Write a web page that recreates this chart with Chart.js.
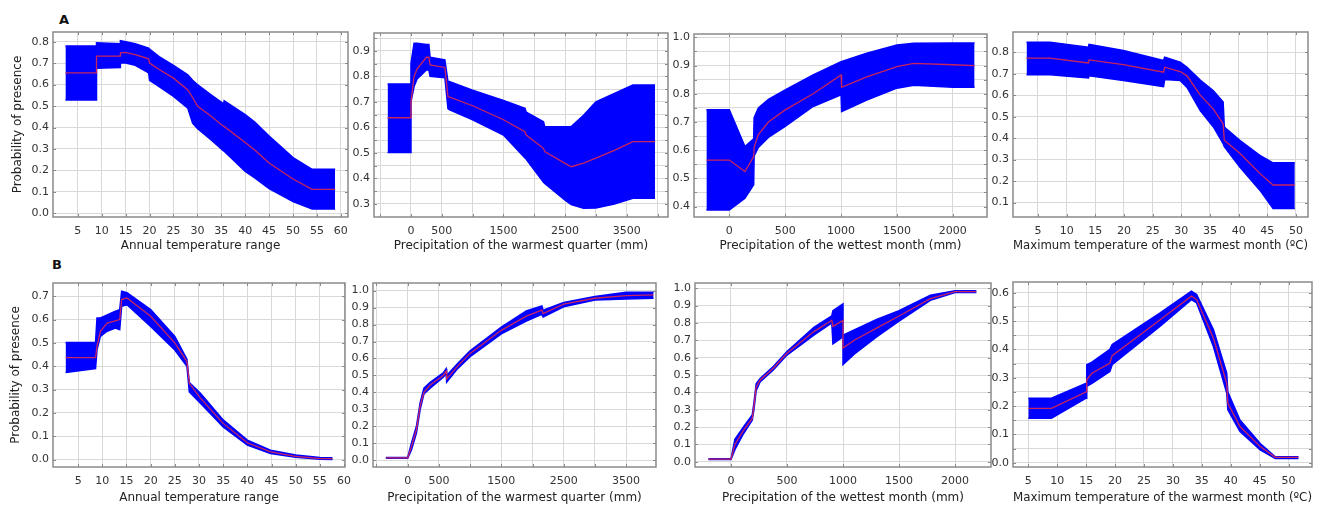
<!DOCTYPE html>
<html>
<head>
<meta charset="utf-8">
<script src="https://cdn.jsdelivr.net/npm/chart.js@4.4.0/dist/chart.umd.min.js"></script>
<style>
  body { margin: 0; background: #fff; width: 1337px; height: 507px; position: relative; overflow: hidden; font-family: "DejaVu Sans", sans-serif; }
  canvas { position: absolute; }
  .tag { position: absolute; font-weight: bold; font-size: 13px; color: #111; }
</style>
</head>
<body>
<div class="tag" style="left:59px;top:12px">A</div>
<div class="tag" style="left:52px;top:257px">B</div>
<script>
// ---- Row A: response curves (x, upper bound, mean, lower bound) ----
const a1X   = [2.4, 8.9, 8.9, 13.9, 13.9, 15, 17, 19.8, 20, 22, 25, 28, 29, 30, 33, 35.5, 35.6, 40, 42, 45, 50, 54, 58.8];
const a1Hi  = [0.78, 0.78, 0.795, 0.79, 0.805, 0.80, 0.79, 0.77, 0.765, 0.73, 0.69, 0.645, 0.62, 0.60, 0.55, 0.51, 0.525, 0.46, 0.425, 0.36, 0.26, 0.205, 0.205];
const a1Mid = [0.655, 0.655, 0.733, 0.733, 0.748, 0.75, 0.74, 0.72, 0.70, 0.67, 0.63, 0.575, 0.54, 0.50, 0.45, 0.405, 0.405, 0.33, 0.295, 0.235, 0.16, 0.112, 0.112];
const a1Lo  = [0.528, 0.528, 0.676, 0.68, 0.70, 0.70, 0.69, 0.655, 0.62, 0.59, 0.545, 0.49, 0.42, 0.395, 0.34, 0.29, 0.29, 0.195, 0.165, 0.115, 0.055, 0.02, 0.02];

const a2X   = [-380, 0, 0, 50, 100, 250, 290, 310, 550, 600, 620, 1000, 1500, 1850, 1870, 2150, 2170, 2500, 2600, 2800, 3000, 3300, 3600, 3960];
const a2Hi  = [0.77, 0.77, 0.85, 0.93, 0.93, 0.925, 0.925, 0.875, 0.865, 0.78, 0.78, 0.746, 0.706, 0.675, 0.66, 0.622, 0.603, 0.603, 0.603, 0.648, 0.70, 0.733, 0.766, 0.766];
const a2Mid = [0.638, 0.638, 0.70, 0.80, 0.83, 0.875, 0.875, 0.845, 0.835, 0.72, 0.72, 0.685, 0.63, 0.583, 0.57, 0.518, 0.505, 0.459, 0.446, 0.46, 0.48, 0.51, 0.544, 0.544];
const a2Lo  = [0.502, 0.502, 0.70, 0.76, 0.79, 0.825, 0.825, 0.80, 0.795, 0.674, 0.67, 0.63, 0.57, 0.48, 0.475, 0.385, 0.38, 0.315, 0.298, 0.283, 0.284, 0.30, 0.322, 0.322];

const a3X   = [-205, 0, 140, 218, 222, 260, 350, 500, 750, 1000, 1005, 1230, 1500, 1650, 2000, 2195];
const a3Hi  = [0.743, 0.743, 0.613, 0.64, 0.715, 0.75, 0.78, 0.814, 0.867, 0.914, 0.914, 0.944, 0.973, 0.979, 0.98, 0.98];
const a3Mid = [0.565, 0.565, 0.524, 0.577, 0.61, 0.655, 0.70, 0.743, 0.80, 0.867, 0.823, 0.86, 0.896, 0.908, 0.903, 0.90];
const a3Lo  = [0.388, 0.388, 0.43, 0.477, 0.58, 0.61, 0.645, 0.684, 0.755, 0.796, 0.737, 0.778, 0.82, 0.83, 0.823, 0.823];

const a4X   = [3.0, 7.1, 13.8, 13.9, 19.9, 26.9, 27.1, 29.8, 31, 33.3, 35.6, 37.3, 37.5, 40.2, 43.7, 46, 49.8];
const a4Hi  = [0.846, 0.846, 0.823, 0.836, 0.808, 0.761, 0.777, 0.754, 0.73, 0.67, 0.62, 0.568, 0.452, 0.39, 0.32, 0.285, 0.285];
const a4Mid = [0.772, 0.772, 0.75, 0.764, 0.742, 0.707, 0.73, 0.71, 0.69, 0.60, 0.535, 0.466, 0.39, 0.33, 0.236, 0.182, 0.182];
const a4Lo  = [0.695, 0.695, 0.68, 0.69, 0.668, 0.64, 0.673, 0.668, 0.636, 0.528, 0.452, 0.374, 0.36, 0.266, 0.158, 0.073, 0.073];

// ---- Row B ----
const b1X   = [2.4, 8.6, 8.9, 9.6, 11, 12.7, 13.6, 14.0, 15.1, 20, 25, 27.5, 28, 30.3, 35, 40, 44.8, 50, 55, 57.6];
const b1Hi  = [0.502, 0.502, 0.607, 0.607, 0.62, 0.636, 0.643, 0.722, 0.715, 0.643, 0.528, 0.43, 0.33, 0.284, 0.17, 0.083, 0.04, 0.019, 0.009, 0.008];
const b1Mid = [0.437, 0.437, 0.485, 0.55, 0.585, 0.595, 0.60, 0.686, 0.693, 0.614, 0.50, 0.42, 0.327, 0.263, 0.155, 0.072, 0.033, 0.014, 0.004, 0.004];
const b1Lo  = [0.373, 0.39, 0.47, 0.528, 0.55, 0.564, 0.557, 0.657, 0.664, 0.571, 0.47, 0.40, 0.29, 0.241, 0.14, 0.062, 0.026, 0.01, 0.001, 0.0];

const b2X   = [-350, 0, 60, 140, 200, 260, 360, 570, 615, 625, 800, 1000, 1500, 1900, 1910, 2150, 2170, 2500, 3000, 3500, 3940];
const b2Hi  = [0.016, 0.016, 0.10, 0.20, 0.34, 0.425, 0.46, 0.515, 0.54, 0.50, 0.57, 0.645, 0.785, 0.88, 0.88, 0.91, 0.885, 0.93, 0.965, 0.99, 0.99];
const b2Mid = [0.014, 0.014, 0.08, 0.18, 0.32, 0.40, 0.443, 0.50, 0.525, 0.48, 0.555, 0.63, 0.766, 0.85, 0.85, 0.885, 0.865, 0.92, 0.955, 0.97, 0.975];
const b2Lo  = [0.012, 0.012, 0.06, 0.16, 0.30, 0.39, 0.425, 0.49, 0.51, 0.46, 0.54, 0.61, 0.745, 0.82, 0.82, 0.86, 0.845, 0.905, 0.945, 0.95, 0.955];

const b3X   = [-200, 0, 35, 110, 190, 205, 225, 260, 380, 500, 740, 900, 910, 1000, 1000, 1100, 1300, 1500, 1780, 2000, 2190];
const b3Hi  = [0.017, 0.017, 0.13, 0.20, 0.27, 0.34, 0.45, 0.48, 0.55, 0.635, 0.775, 0.84, 0.87, 0.91, 0.73, 0.76, 0.82, 0.87, 0.96, 0.985, 0.985];
const b3Mid = [0.015, 0.015, 0.10, 0.18, 0.25, 0.32, 0.43, 0.47, 0.54, 0.625, 0.75, 0.815, 0.78, 0.815, 0.655, 0.70, 0.77, 0.84, 0.94, 0.98, 0.98];
const b3Lo  = [0.013, 0.013, 0.07, 0.16, 0.24, 0.30, 0.41, 0.46, 0.53, 0.615, 0.73, 0.80, 0.68, 0.72, 0.56, 0.62, 0.72, 0.81, 0.93, 0.975, 0.975];

const b4X   = [5.0, 9.0, 15.0, 15.1, 16, 19.1, 19.5, 27.8, 33.2, 34.1, 37, 39.3, 39.5, 41.6, 45.1, 47.7, 51.7];
const b4Hi  = [0.228, 0.228, 0.281, 0.346, 0.355, 0.40, 0.417, 0.529, 0.606, 0.594, 0.47, 0.316, 0.25, 0.151, 0.068, 0.021, 0.021];
const b4Mid = [0.192, 0.192, 0.25, 0.293, 0.316, 0.352, 0.378, 0.505, 0.588, 0.576, 0.44, 0.281, 0.21, 0.128, 0.057, 0.019, 0.019];
const b4Lo  = [0.157, 0.157, 0.228, 0.27, 0.28, 0.322, 0.346, 0.482, 0.576, 0.564, 0.41, 0.246, 0.187, 0.11, 0.045, 0.015, 0.015];

// axis texts and ticks
const yTitle = 'Probability of presence';
const titleTemp = 'Annual temperature range';
const titleWarmQ = 'Precipitation of the warmest quarter (mm)';
const titleWetM = 'Precipitation of the wettest month (mm)';
const titleMaxT = 'Maximum temperature of the warmest month (ºC)';
const ticksTemp = [5, 10, 15, 20, 25, 30, 35, 40, 45, 50, 55, 60];
const ticksMaxT = [5, 10, 15, 20, 25, 30, 35, 40, 45, 50];
const ticksWarmQ = [-500, 0, 500, 1000, 1500, 2000, 2500, 3000, 3500, 4000];
const labelsWarmQ = [0, 500, 1500, 2500, 3500];
const ticksWetM = [0, 500, 1000, 1500, 2000];

function steps(from, to, step) {
  const out = [];
  for (let v = from; v <= to + 1e-9; v += step) out.push(Math.round(v * 100) / 100);
  return out;
}

// Panel layout (frame = plot box in page pixels)
const panels = [
  { frame: [53, 32, 348, 217], row: 0, x: a1X, hi: a1Hi, mid: a1Mid, lo: a1Lo, xMin: -0.2, xMax: 61.5, xTicks: ticksTemp, xLabels: ticksTemp,
    yMin: -0.017, yMax: 0.845, yTicks: steps(0, 0.8, 0.1), xTitle: titleTemp, yTitle: true },
  { frame: [374, 33, 668, 217], row: 0, x: a2X, hi: a2Hi, mid: a2Mid, lo: a2Lo, xMin: -600, xMax: 4170, xTicks: ticksWarmQ, xLabels: labelsWarmQ,
    yMin: 0.249, yMax: 0.97, yTicks: steps(0.3, 0.95, 0.05), xTitle: titleWarmQ },
  { frame: [694, 34, 987, 217], row: 0, x: a3X, hi: a3Hi, mid: a3Mid, lo: a3Lo, xMin: -316, xMax: 2306, xTicks: ticksWetM, xLabels: ticksWetM,
    yMin: 0.363, yMax: 1.012, yTicks: steps(0.4, 1.0, 0.05), xTitle: titleWetM },
  { frame: [1013, 32, 1308, 217], row: 0, x: a4X, hi: a4Hi, mid: a4Mid, lo: a4Lo, xMin: 0.64, xMax: 52.1, xTicks: ticksMaxT, xLabels: ticksMaxT,
    yMin: 0.033, yMax: 0.894, yTicks: steps(0.1, 0.8, 0.1), xTitle: titleMaxT },
  { frame: [53, 283, 345, 467], row: 1, x: b1X, hi: b1Hi, mid: b1Mid, lo: b1Lo, xMin: -0.2, xMax: 60.2, xTicks: ticksTemp, xLabels: ticksTemp,
    yMin: -0.032, yMax: 0.757, yTicks: steps(0, 0.7, 0.1), xTitle: titleTemp, yTitle: true },
  { frame: [373, 283, 656, 467], row: 1, x: b2X, hi: b2Hi, mid: b2Mid, lo: b2Lo, xMin: -556, xMax: 3979, xTicks: ticksWarmQ.slice(0, 9), xLabels: labelsWarmQ,
    yMin: -0.04, yMax: 1.045, yTicks: steps(0, 1.0, 0.1), xTitle: titleWarmQ },
  { frame: [695, 283, 991, 467], row: 1, x: b3X, hi: b3Hi, mid: b3Mid, lo: b3Lo, xMin: -321, xMax: 2321, xTicks: ticksWetM, xLabels: ticksWetM,
    yMin: -0.03, yMax: 1.03, yTicks: steps(0, 1.0, 0.1), xTitle: titleWetM },
  { frame: [1013, 282, 1312, 467], row: 1, x: b4X, hi: b4Hi, mid: b4Mid, lo: b4Lo, xMin: 2.35, xMax: 54.05, xTicks: ticksMaxT, xLabels: ticksMaxT,
    yMin: -0.015, yMax: 0.638, yTicks: steps(0, 0.6, 0.05), xTitle: titleMaxT }
];

Chart.defaults.font.family = '"DejaVu Sans", Verdana, sans-serif';

// frame box + small tick marks like the original plots
const framePlugin = {
  id: 'frame',
  afterDraw(chart) {
    const { ctx, chartArea: a, scales } = chart;
    ctx.save();
    ctx.strokeStyle = '#8a8a8a';
    ctx.lineWidth = 1;
    ctx.beginPath();
    scales.x.ticks.forEach(t => {
      const px = Math.round(scales.x.getPixelForValue(t.value)) + 0.5;
      ctx.moveTo(px, a.top); ctx.lineTo(px, a.top + 3);
      ctx.moveTo(px, a.bottom); ctx.lineTo(px, a.bottom - 3);
    });
    scales.y.ticks.forEach(t => {
      const py = Math.round(scales.y.getPixelForValue(t.value)) + 0.5;
      ctx.moveTo(a.left, py); ctx.lineTo(a.left + 3, py);
      ctx.moveTo(a.right, py); ctx.lineTo(a.right - 3, py);
    });
    ctx.stroke();
    ctx.lineWidth = 1.5;
    ctx.strokeRect(a.left, a.top, a.right - a.left, a.bottom - a.top);
    ctx.restore();
  }
};

panels.forEach(p => {
  const [L, T, R, B] = p.frame;
  const padL = p.yTitle ? 50 : 40;
  const padT = 6, padR = 8, axisH = 42;
  const canvas = document.createElement('canvas');
  canvas.width = (R - L) + padL + padR;
  canvas.height = (B - T) + padT + axisH;
  canvas.style.left = (L - padL) + 'px';
  canvas.style.top = (T - padT) + 'px';
  document.body.appendChild(canvas);

  const pts = ys => p.x.map((x, i) => ({ x: x, y: ys[i] }));
  const titleBottom = p.row === 0 ? 6 : 4;

  new Chart(canvas.getContext('2d'), {
    type: 'line',
    data: {
      datasets: [
        { data: pts(p.hi), borderColor: '#0000ff', borderWidth: 1.5, backgroundColor: '#0000ff', fill: '+1', pointRadius: 0, order: 2 },
        { data: pts(p.lo), borderColor: '#0000ff', borderWidth: 1.5, fill: false, pointRadius: 0, order: 2 },
        { data: pts(p.mid), borderColor: '#c8245e', borderWidth: 1.3, fill: false, pointRadius: 0, order: 0 }
      ]
    },
    options: {
      responsive: false,
      animation: false,
      layout: { padding: { top: padT, right: padR, left: 0, bottom: 0 } },
      plugins: { legend: { display: false }, tooltip: { enabled: false } },
      scales: {
        x: {
          type: 'linear',
          min: p.xMin,
          max: p.xMax,
          afterBuildTicks: s => { s.ticks = p.xTicks.map(v => ({ value: v })); },
          afterFit: s => { s.height = axisH; s.paddingLeft = 0; s.paddingRight = 0; },
          grid: { color: '#d9d9d9', drawTicks: false },
          border: { display: false },
          ticks: {
            autoSkip: false, maxRotation: 0, padding: 8, color: '#333', font: { size: 11 },
            callback: v => p.xLabels.includes(v) ? String(v) : ''
          },
          title: { display: true, text: p.xTitle, color: '#222', font: { size: 12 }, padding: { top: 0, bottom: titleBottom } }
        },
        y: {
          min: p.yMin,
          max: p.yMax,
          afterBuildTicks: s => { s.ticks = p.yTicks.map(v => ({ value: v })); },
          afterFit: s => { s.width = padL; s.paddingTop = 0; s.paddingBottom = 0; },
          grid: { color: '#d9d9d9', drawTicks: false },
          border: { display: false },
          ticks: {
            autoSkip: false, padding: 4, color: '#333', font: { size: 11 },
            callback: v => Math.round(v * 100) % 10 === 0 ? v.toFixed(1) : ''
          },
          title: { display: !!p.yTitle, text: yTitle, color: '#222', font: { size: 12 }, padding: { top: p.row === 0 ? 8 : 6, bottom: 0 } }
        }
      }
    },
    plugins: [framePlugin]
  });
});
</script>
</body>
</html>
